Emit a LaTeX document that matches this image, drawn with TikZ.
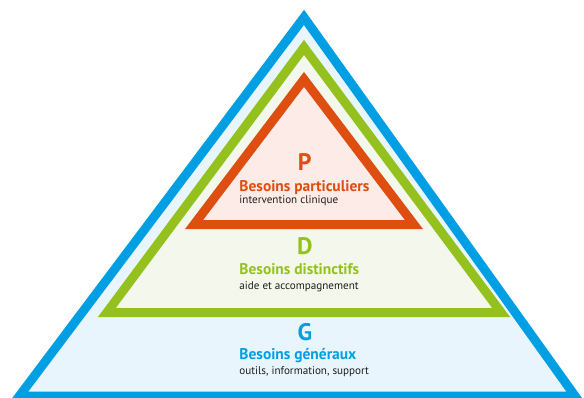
\documentclass[tikz,border=0pt]{standalone}
\usepackage{fontspec}
\setmainfont{PT Sans}
\definecolor{cyanblue}{RGB}{0, 159, 227}
\definecolor{paleblue}{RGB}{232, 245, 253}
\definecolor{grassgreen}{RGB}{149, 193, 31}
\definecolor{palegreen}{RGB}{244, 248, 236}
\definecolor{burntorange}{RGB}{222, 78, 16}
\definecolor{palerose}{RGB}{252, 235, 230}
\definecolor{inkblack}{RGB}{29, 29, 27}
\tikzset{
    level/.style={line width=6.4pt, line join=miter},
    letter/.style={anchor=base, inner sep=0pt, font=\fontsize{17}{17}\selectfont\bfseries},
    heading/.style={anchor=base west, inner sep=0pt, font=\fontsize{11}{12}\selectfont\bfseries},
    detail/.style={anchor=base west, inner sep=0pt, text=inkblack, font=\fontsize{7.9}{9}\selectfont},
}
\begin{document}
\begin{tikzpicture}
            % Frame to fix the page size
            \useasboundingbox                                       (-7.60, 0.00) rectangle (7.00, 9.925);
            \clip                                                   (-7.60, 0.00) rectangle (7.00, 9.925);
            % G level
            \draw[level, cyanblue, fill=paleblue]       (-7.12, 0.02) -- ( 0.00, 9.49) -- ( 6.78, 0.02) -- cycle;
            % D level
            \draw[level, grassgreen, fill=palegreen]    (-4.93, 2.11) -- ( 0.00, 8.74) -- ( 4.93, 2.11) -- cycle;
            % P level
            \draw[level, burntorange, fill=palerose]    (-2.75, 4.31) -- ( 0.00, 7.94) -- ( 2.75, 4.31) -- cycle;
            % Labels, top to bottom
            \node[letter, text=burntorange]  (p-letter) at ( 0.02, 5.65) {P};
            \node[heading, text=burntorange] (p-title)  at (-1.62, 5.125) {Besoins particuliers};
            \node[detail]                    (p-text)   at (-1.62, 4.825) {intervention clinique};
            \node[letter, text=grassgreen]   (d-letter) at ( 0.02, 3.55) {D};
            \node[heading, text=grassgreen]  (d-title)  at (-1.62, 3.05) {Besoins distinctifs};
            \node[detail]                    (d-text)   at (-1.62, 2.675) {aide et accompagnement};
            \node[letter, text=cyanblue]     (g-letter) at ( 0.02, 1.425) {G};
            \node[heading, text=cyanblue]    (g-title)  at (-1.62, 0.925) {Besoins généraux};
            \node[detail]                    (g-text)   at (-1.62, 0.55) {outils, information, support};
        \end{tikzpicture}
\end{document}
